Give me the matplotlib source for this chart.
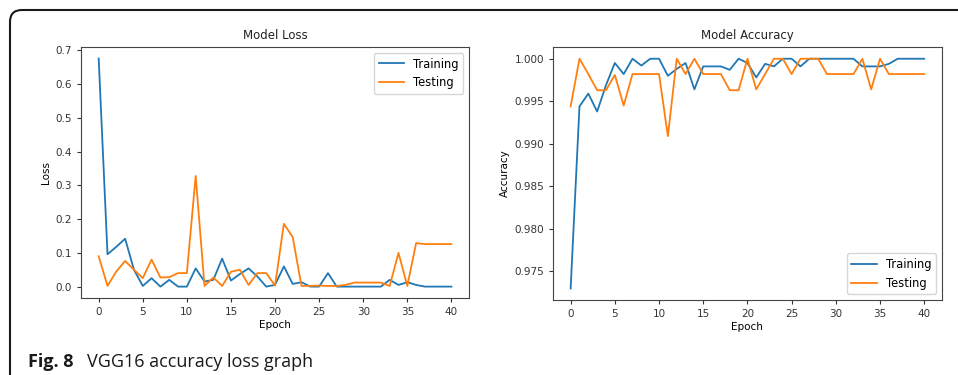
import numpy as np
import matplotlib
matplotlib.use("Agg")
import matplotlib.pyplot as plt
from matplotlib.patches import FancyBboxPatch

epochs = np.arange(41)

train_loss = [0.676, 0.096, 0.118, 0.142, 0.050, 0.002, 0.025, 0.000, 0.020, 0.000,
              0.000, 0.054, 0.015, 0.020, 0.083, 0.018, 0.037, 0.054, 0.030, 0.000,
              0.005, 0.060, 0.008, 0.013, 0.000, 0.000, 0.040, 0.000, 0.000, 0.000,
              0.000, 0.000, 0.000, 0.020, 0.005, 0.013, 0.005, 0.000, 0.000, 0.000,
              0.000]
test_loss = [0.090, 0.002, 0.045, 0.076, 0.050, 0.025, 0.080, 0.027, 0.028, 0.040,
             0.040, 0.328, 0.002, 0.027, 0.002, 0.044, 0.050, 0.005, 0.040, 0.040,
             0.003, 0.186, 0.147, 0.002, 0.002, 0.003, 0.002, 0.002, 0.005, 0.012,
             0.012, 0.012, 0.012, 0.002, 0.100, 0.002, 0.129, 0.126, 0.126, 0.126,
             0.126]

train_acc = [0.9730, 0.9944, 0.9959, 0.9938, 0.9969, 0.9995, 0.9982, 1.0000, 0.9992, 1.0000,
             1.0000, 0.9980, 0.9988, 0.9995, 0.9964, 0.9991, 0.9991, 0.9991, 0.9987, 1.0000,
             0.9995, 0.9978, 0.9994, 0.9991, 1.0000, 1.0000, 0.9991, 1.0000, 1.0000, 1.0000,
             1.0000, 1.0000, 1.0000, 0.9991, 0.9991, 0.9991, 0.9994, 1.0000, 1.0000, 1.0000,
             1.0000]
test_acc = [0.9944, 1.0000, 0.9982, 0.9963, 0.9963, 0.9981, 0.9945, 0.9982, 0.9982, 0.9982,
            0.9982, 0.9909, 1.0000, 0.9982, 1.0000, 0.9982, 0.9982, 0.9982, 0.9963, 0.9963,
            1.0000, 0.9964, 0.9982, 1.0000, 1.0000, 0.9982, 1.0000, 1.0000, 1.0000, 0.9982,
            0.9982, 0.9982, 0.9982, 1.0000, 0.9964, 1.0000, 0.9982, 0.9982, 0.9982, 0.9982,
            0.9982]

fig = plt.figure(figsize=(9.58, 3.75), dpi=100)

# journal frame round the figure (inch coords: left 10px, top 10px, radius ~12px)
frame = FancyBboxPatch((0.10, -1.0), 12.0, 4.65, boxstyle="round,pad=0,rounding_size=0.12",
                       transform=fig.dpi_scale_trans, fill=False, edgecolor="#1a1a1a",
                       linewidth=1.5)
fig.patches.append(frame)

ax1 = fig.add_axes([0.0846, 0.2053, 0.405, 0.669])
ax2 = fig.add_axes([0.5772, 0.2000, 0.406, 0.674])

for ax in (ax1, ax2):
    ax.tick_params(labelsize=7.5, colors="#333333", length=3)
    for s in ax.spines.values():
        s.set_color("#444444")
        s.set_linewidth(0.8)

ax1.plot(epochs, train_loss, color="#1f77b4", lw=1.3, label="Training")
ax1.plot(epochs, test_loss, color="#ff7f0e", lw=1.3, label="Testing")
ax1.set_title("Model Loss", fontsize=8.5, color="#222222")
ax1.set_xlabel("Epoch", fontsize=7.5, labelpad=2)
ax1.set_ylabel("Loss", fontsize=7.5, labelpad=3)
ax1.set_xticks(range(0, 41, 5))
ax1.legend(loc="upper right", fontsize=8.3, handlelength=2.2)

ax2.plot(epochs, train_acc, color="#1f77b4", lw=1.3, label="Training")
ax2.plot(epochs, test_acc, color="#ff7f0e", lw=1.3, label="Testing")
ax2.set_title("Model Accuracy", fontsize=8.5, color="#222222")
ax2.set_xlabel("Epoch", fontsize=7.5, labelpad=2)
ax2.set_ylabel("Accuracy", fontsize=7.5, labelpad=3)
ax2.set_xticks(range(0, 41, 5))
ax2.legend(loc="lower right", fontsize=8.3, handlelength=2.2)

fig.text(28 / 958, 8 / 375, "Fig. 8", fontsize=13, fontweight="bold", fontstretch="normal",
         family="Open Sans", color="#1a1a1a", va="baseline")
fig.text(87 / 958, 8 / 375, "VGG16 accuracy loss graph", fontsize=13, family="Open Sans",
         color="#1a1a1a", va="baseline")

fig.savefig("out.png", dpi=100)
